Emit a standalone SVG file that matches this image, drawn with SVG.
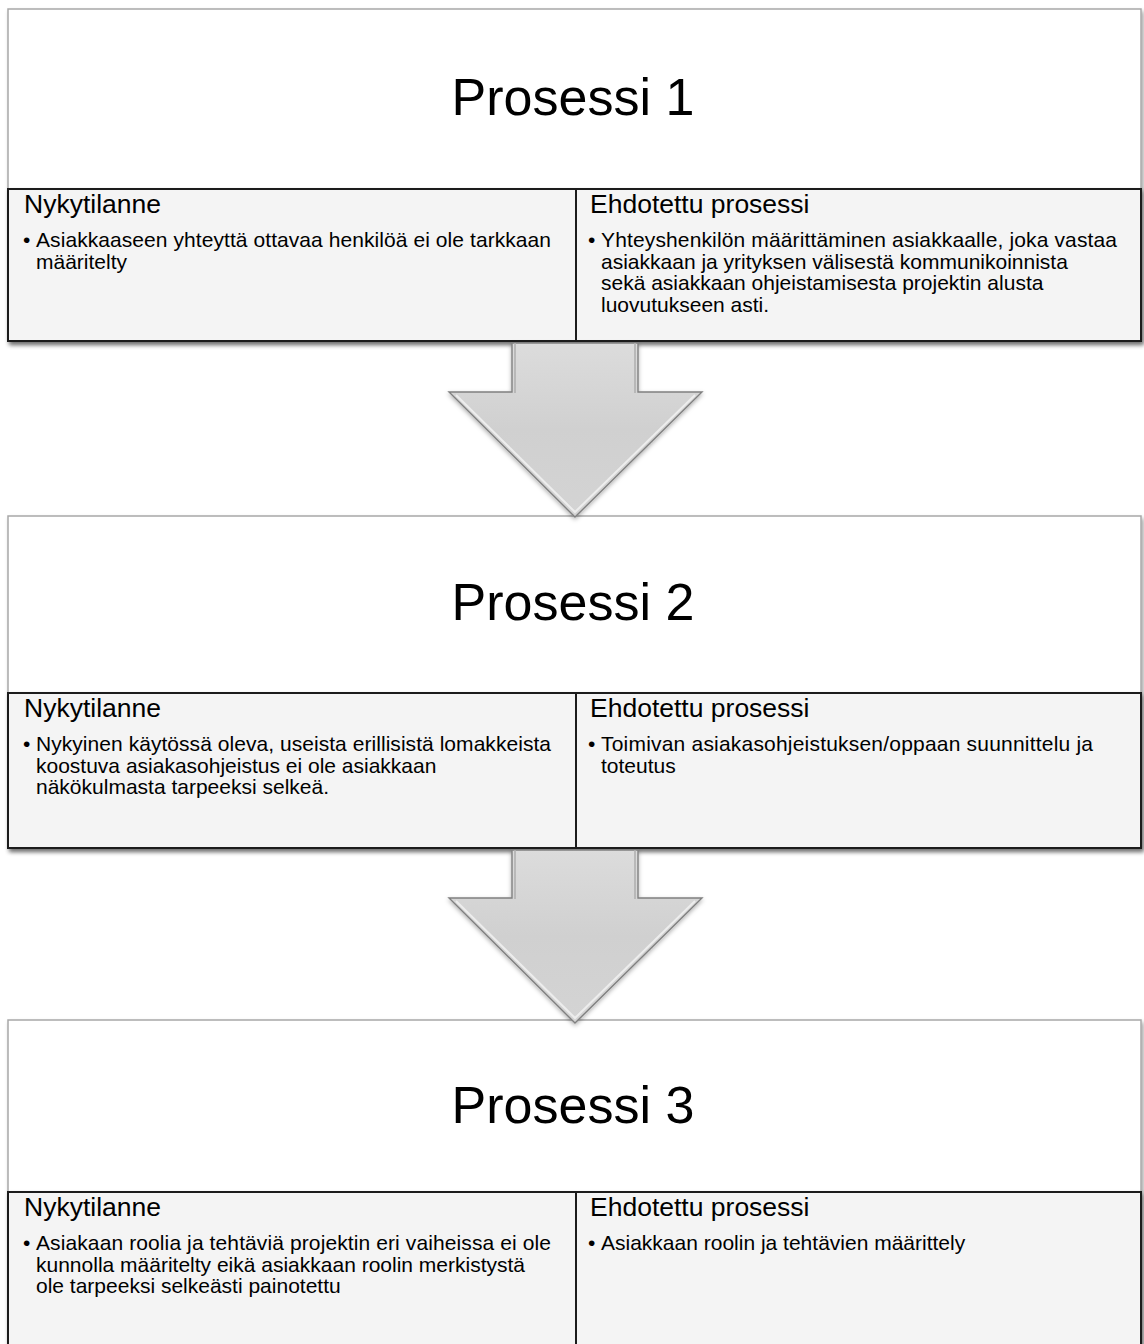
<svg xmlns="http://www.w3.org/2000/svg" width="1144" height="1344" viewBox="0 0 1144 1344">
<style>
text{font-family:"Liberation Sans",Arial,Helvetica,sans-serif;fill:#000}
.title{font-size:52px;text-anchor:middle}
.hd{font-size:26.5px}
.tx{font-size:21px}
.bl{font-size:21px}
.outer{stroke:#a8a8a8;stroke-width:1.5}
.cell{fill:#f4f4f4;stroke:#1e1e1e;stroke-width:2}
.arrow{fill:url(#arrowGrad);stroke:#808080;stroke-width:1.4;stroke-linejoin:miter}
.hl{fill:none;stroke:#f0f0f0;stroke-width:2;opacity:0.9}
.sh{fill:none;stroke:#b0b0b0;stroke-width:2;opacity:0.8}
</style>
<defs>
<linearGradient id="hdrGrad" x1="0" y1="0" x2="0" y2="1">
<stop offset="0" stop-color="#ffffff"/>
<stop offset="0.6" stop-color="#ffffff"/>
<stop offset="1" stop-color="#ececec"/>
</linearGradient>
<linearGradient id="arrowGrad" x1="0" y1="0" x2="0" y2="1">
<stop offset="0" stop-color="#dcdcdc"/>
<stop offset="0.5" stop-color="#d0d0d0"/>
<stop offset="1" stop-color="#d4d4d4"/>
</linearGradient>
<filter id="shadow" x="-5%" y="-5%" width="110%" height="115%">
<feDropShadow dx="2" dy="3" stdDeviation="2" flood-color="#000" flood-opacity="0.35"/>
</filter>
<filter id="ashadow" x="-10%" y="-10%" width="120%" height="125%">
<feDropShadow dx="0" dy="2" stdDeviation="2" flood-color="#000" flood-opacity="0.3"/>
</filter>
</defs>

<g id="process1">
<rect class="outer" x="8" y="9" width="1133" height="332" fill="url(#hdrGrad)" filter="url(#shadow)"/>
<text class="title" x="573" y="115">Prosessi 1</text>
<g filter="url(#shadow)">
<rect class="cell" x="8" y="189" width="568" height="152"/>
<rect class="cell" x="576" y="189" width="565" height="152"/>
</g>
<text class="hd" x="24" y="213">Nykytilanne</text>
<text class="bl" x="23" y="247">•</text>
<text class="tx" x="36" y="247" textLength="515" lengthAdjust="spacing">Asiakkaaseen yhteyttä ottavaa henkilöä ei ole tarkkaan</text>
<text class="tx" x="36" y="268.5">määritelty</text>
<text class="hd" x="590" y="213">Ehdotettu prosessi</text>
<text class="bl" x="588" y="247">•</text>
<text class="tx" x="601" y="247" textLength="516" lengthAdjust="spacing">Yhteyshenkilön määrittäminen asiakkaalle, joka vastaa</text>
<text class="tx" x="601" y="268.5">asiakkaan ja yrityksen välisestä kommunikoinnista</text>
<text class="tx" x="601" y="290">sekä asiakkaan ohjeistamisesta projektin alusta</text>
<text class="tx" x="601" y="311.5">luovutukseen asti.</text>
</g>

<g id="process2">
<rect class="outer" x="8" y="516" width="1133" height="332" fill="url(#hdrGrad)" filter="url(#shadow)"/>
<text class="title" x="573" y="620">Prosessi 2</text>
<g filter="url(#shadow)">
<rect class="cell" x="8" y="693" width="568" height="155"/>
<rect class="cell" x="576" y="693" width="565" height="155"/>
</g>
<text class="hd" x="24" y="717">Nykytilanne</text>
<text class="bl" x="23" y="751">•</text>
<text class="tx" x="36" y="751" textLength="515" lengthAdjust="spacing">Nykyinen käytössä oleva, useista erillisistä lomakkeista</text>
<text class="tx" x="36" y="772.5">koostuva asiakasohjeistus ei ole asiakkaan</text>
<text class="tx" x="36" y="794">näkökulmasta tarpeeksi selkeä.</text>
<text class="hd" x="590" y="717">Ehdotettu prosessi</text>
<text class="bl" x="588" y="751">•</text>
<text class="tx" x="601" y="751" textLength="492" lengthAdjust="spacing">Toimivan asiakasohjeistuksen/oppaan suunnittelu ja</text>
<text class="tx" x="601" y="772.5">toteutus</text>
</g>

<g id="process3">
<rect class="outer" x="8" y="1020" width="1133" height="340" fill="url(#hdrGrad)" filter="url(#shadow)"/>
<text class="title" x="573" y="1123">Prosessi 3</text>
<g filter="url(#shadow)">
<rect class="cell" x="8" y="1192" width="568" height="170"/>
<rect class="cell" x="576" y="1192" width="565" height="170"/>
</g>
<text class="hd" x="24" y="1216">Nykytilanne</text>
<text class="bl" x="23" y="1250">•</text>
<text class="tx" x="36" y="1250" textLength="515" lengthAdjust="spacing">Asiakaan roolia ja tehtäviä projektin eri vaiheissa ei ole</text>
<text class="tx" x="36" y="1271.5">kunnolla määritelty eikä asiakkaan roolin merkistystä</text>
<text class="tx" x="36" y="1293">ole tarpeeksi selkeästi painotettu</text>
<text class="hd" x="590" y="1216">Ehdotettu prosessi</text>
<text class="bl" x="588" y="1250">•</text>
<text class="tx" x="601" y="1250">Asiakkaan roolin ja tehtävien määrittely</text>
</g>

<g id="connectors">
<g id="arrow1" filter="url(#ashadow)">
<polygon class="arrow" points="512,343 638,343 638,392 702,392 575,517 449,392 512,392"/>
<polyline class="hl" points="456,395 575,512 695,395"/>
<polyline class="sh" points="515,343 515,393"/>
<polyline class="sh" points="635,343 635,393"/>
</g>
<g id="arrow2" filter="url(#ashadow)">
<polygon class="arrow" points="512,850 638,850 638,898 702,898 575,1023 449,898 512,898"/>
<polyline class="hl" points="456,901 575,1018 695,901"/>
<polyline class="sh" points="515,850 515,899"/>
<polyline class="sh" points="635,850 635,899"/>
</g>
</g>
</svg>
